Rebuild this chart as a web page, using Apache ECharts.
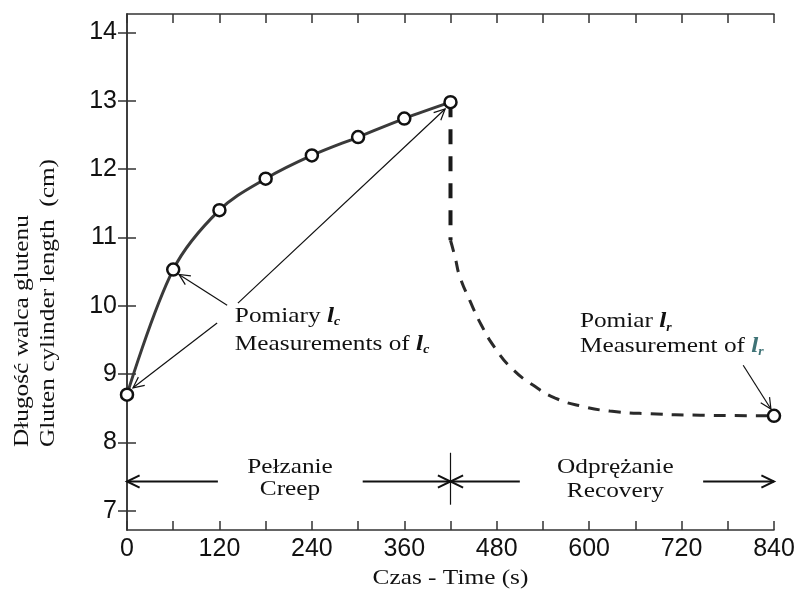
<!DOCTYPE html>
<html>
<head>
<meta charset="utf-8">
<script src="https://cdn.jsdelivr.net/npm/echarts@6/dist/echarts.min.js"></script>
<style>html,body{margin:0;padding:0;background:#fff;}#c{width:799px;height:593px;}</style>
</head>
<body>
<div id="c"></div>
<script>
// ---- data ----
const creepTime = [0, 60, 120, 180, 240, 300, 360, 420];
const creepLength = [8.70, 10.53, 11.40, 11.86, 12.20, 12.47, 12.74, 12.98];
const dropTime = [420, 420];
const dropLength = [12.98, 10.96];
const recoveryTime = [420, 426, 432, 445, 460, 478, 500, 527, 556, 591, 627, 679, 744, 840];
const recoveryLength = [10.96, 10.71, 10.43, 10.08, 9.72, 9.38, 9.08, 8.84, 8.65, 8.53, 8.46, 8.42, 8.40, 8.39];
const recoveryEndTime = [840];
const recoveryEndLength = [8.39];
const yTicks = [7, 8, 9, 10, 11, 12, 13, 14];
const xTickStep = 60;
const xLabelStep = 120;

const serif = '"Liberation Serif", "Times New Roman", serif';
const sans = '"Liberation Sans", Arial, sans-serif';
const zip = (a, b) => a.map((v, i) => [v, b[i]]);

const chart = echarts.init(document.getElementById('c'), null, {renderer: 'canvas'});

const axisLine = {show: true, lineStyle: {color: '#333', width: 1.5}};
const tick = {show: true, inside: true, length: 9, lineStyle: {color: '#333', width: 1.5}};

chart.setOption({
  animation: false,
  backgroundColor: '#fff',
  grid: {left: 127, right: 25, top: 14, bottom: 63},
  xAxis: [
    {type: 'value', min: 0, max: 840, interval: xTickStep, position: 'bottom',
     axisLine: axisLine, axisTick: tick, splitLine: {show: false},
     axisLabel: {margin: 7, color: '#111', fontSize: 25, fontFamily: sans,
       formatter: v => (v % xLabelStep === 0 ? String(v) : '')}},
    {type: 'value', min: 0, max: 840, interval: xTickStep, position: 'top',
     axisLine: axisLine, axisTick: tick, splitLine: {show: false}, axisLabel: {show: false}}
  ],
  yAxis: [
    {type: 'value', min: 6.72, max: 14.27, position: 'left',
     axisLine: axisLine, splitLine: {show: false},
     axisTick: Object.assign({}, tick, {customValues: yTicks}),
     axisLabel: {customValues: yTicks, margin: 10, color: '#111', fontSize: 25, fontFamily: sans}},
    {type: 'value', min: 6.72, max: 14.27, position: 'right',
     axisLine: axisLine, splitLine: {show: false},
     axisTick: Object.assign({}, tick, {customValues: yTicks}),
     axisLabel: {show: false}}
  ],
  series: [
    {type: 'line', data: zip(dropTime, dropLength), showSymbol: false, clip: false,
     lineStyle: {color: '#1a1a1a', width: 4, type: [15, 12]}, z: 2},
    {type: 'line', data: zip(recoveryTime, recoveryLength), showSymbol: false, clip: false,
     smooth: 0.5,
     lineStyle: {color: '#2a2a2a', width: 3, type: [12, 9]}, z: 2},
    {type: 'line', data: zip(creepTime, creepLength), smooth: 0.35, clip: false,
     symbol: 'circle', symbolSize: 12, showSymbol: true,
     lineStyle: {color: '#3a3a3a', width: 3},
     itemStyle: {color: '#fff', borderColor: '#111', borderWidth: 2.5}, z: 3},
    {type: 'scatter', data: zip(recoveryEndTime, recoveryEndLength), clip: false,
     symbol: 'circle', symbolSize: 12,
     itemStyle: {color: '#fff', borderColor: '#111', borderWidth: 2.5, opacity: 1}, z: 4}
  ]
});

// ---- annotations (in data coordinates) ----
const P = (t, v) => chart.convertToPixel({gridIndex: 0}, [t, v]);

function arrow(from, to, width, headLen) {
  const a = P(from[0], from[1]);
  const b = P(to[0], to[1]);
  const ang = Math.atan2(b[1] - a[1], b[0] - a[0]);
  const spread = 0.45;
  const h1 = [b[0] - headLen * Math.cos(ang - spread), b[1] - headLen * Math.sin(ang - spread)];
  const h2 = [b[0] - headLen * Math.cos(ang + spread), b[1] - headLen * Math.sin(ang + spread)];
  return [
    {type: 'line', shape: {x1: a[0], y1: a[1], x2: b[0], y2: b[1]},
     style: {stroke: '#111', lineWidth: width}, z: 10},
    {type: 'polyline', shape: {points: [h1, b, h2]},
     style: {stroke: '#111', lineWidth: width, fill: null}, z: 10}
  ];
}

function text(t, v, str, opts) {
  const p = P(t, v);
  return {
    type: 'text', x: p[0], y: p[1], scaleX: 1.15, z: 11,
    style: Object.assign({text: str, fontFamily: serif, fontSize: 22, fill: '#111',
      align: 'left', verticalAlign: 'middle'}, opts || {})
  };
}

const richL = (col) => ({
  l: {fontFamily: serif, fontSize: 22, fontStyle: 'italic', fontWeight: 'bold', fill: col},
  s: {fontFamily: serif, fontSize: 12, fontStyle: 'italic', fontWeight: 'bold', fill: col, padding: [12, 0, 0, 0]}
});

const g = [];
// measurement arrows
g.push(...arrow([130, 10.01], [67.5, 10.46], 1.2, 12));
g.push(...arrow([117, 9.75], [7.8, 8.80], 1.2, 12));
g.push(...arrow([144, 10.04], [413, 12.88], 1.2, 12));
g.push(...arrow([800, 9.13], [836, 8.49], 1.2, 12));
// phase span arrows
g.push(...arrow([118, 7.43], [0, 7.43], 2, 14));
g.push(...arrow([306, 7.43], [420, 7.43], 2, 14));
g.push(...arrow([510, 7.43], [420, 7.43], 2, 14));
g.push(...arrow([748, 7.43], [840, 7.43], 2, 14));
(function () {
  const a = P(420, 7.85), b = P(420, 7.09);
  g.push({type: 'line', shape: {x1: a[0], y1: a[1], x2: b[0], y2: b[1]},
    style: {stroke: '#111', lineWidth: 1.2}, z: 10});
})();

// texts
g.push(text(140, 9.85, 'Pomiary {l|l}{s|c}', {rich: richL('#111')}));
g.push(text(140, 9.44, 'Measurements of {l|l}{s|c}', {rich: richL('#111')}));
g.push(text(588, 9.77, 'Pomiar {l|l}{s|r}', {rich: richL('#111')}));
g.push(text(588, 9.41, 'Measurement of {l|l}{s|r}', {rich: richL('#3f7376')}));
g.push(text(211.6, 7.64, 'Pełzanie', {align: 'center'}));
g.push(text(211.6, 7.31, 'Creep', {align: 'center'}));
g.push(text(634, 7.64, 'Odprężanie', {align: 'center'}));
g.push(text(634, 7.29, 'Recovery', {align: 'center'}));

// axis titles
g.push({type: 'text', x: 450.5, y: 578, scaleX: 1.15, z: 11,
  style: {text: 'Czas - Time (s)', fontFamily: serif, fontSize: 22, fill: '#111', align: 'center', verticalAlign: 'middle'}});
g.push({type: 'text', x: 22, y: 447, rotation: Math.PI / 2, scaleX: 1.15, z: 11,
  style: {text: 'Długość walca glutenu', fontFamily: serif, fontSize: 22, fill: '#111', align: 'left', verticalAlign: 'middle'}});
g.push({type: 'text', x: 48, y: 447, rotation: Math.PI / 2, scaleX: 1.15, z: 11,
  style: {text: 'Gluten cylinder length  (cm)', fontFamily: serif, fontSize: 22, fill: '#111', align: 'left', verticalAlign: 'middle'}});

chart.setOption({graphic: g});
</script>
</body>
</html>
